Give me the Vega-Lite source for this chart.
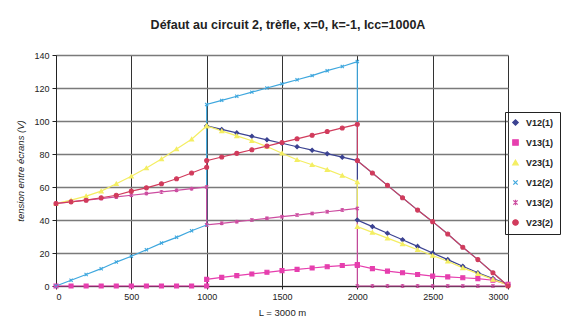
{
  "$schema": "https://vega.github.io/schema/vega-lite/v6.json",
  "width": 452,
  "height": 231,
  "autosize": "none",
  "padding": {"left": 56, "top": 55, "right": 65, "bottom": 45},
  "background": "white",
  "title": {"text": "Défaut au circuit 2, trèfle, x=0, k=-1, Icc=1000A", "font": "Liberation Sans", "fontSize": 12.5, "fontWeight": "bold", "color": "#222", "anchor": "middle", "offset": 20, "dx": 6},
  "config": {
    "view": {"stroke": null},
    "axis": {"labelFont": "Liberation Sans", "labelFontSize": 9, "labelColor": "#222", "titleFont": "Liberation Sans", "titleColor": "#222", "domainColor": "#222", "tickColor": "#222", "gridColor": "#808080"},
    "legend": {"labelFont": "Liberation Sans", "labelFontSize": 9, "labelFontWeight": "bold", "labelColor": "#222", "orient": "none", "legendX": 449, "legendY": 57, "strokeColor": "#222", "padding": 6, "rowPadding": 9, "symbolSize": 30, "symbolStrokeWidth": 1.2, "labelOffset": 6, "title": null}
  },
  "data": {"values": [
    {"s":"V12(1)","o":11,"L":1000,"v":97},{"s":"V12(1)","o":12,"L":1100,"v":94.9},{"s":"V12(1)","o":13,"L":1200,"v":92.8},{"s":"V12(1)","o":14,"L":1300,"v":90.7},{"s":"V12(1)","o":15,"L":1400,"v":88.6},{"s":"V12(1)","o":16,"L":1500,"v":86.5},{"s":"V12(1)","o":17,"L":1600,"v":84.4},{"s":"V12(1)","o":18,"L":1700,"v":82.3},{"s":"V12(1)","o":19,"L":1800,"v":80.2},{"s":"V12(1)","o":20,"L":1900,"v":78.1},{"s":"V12(1)","o":21,"L":2000,"v":76},
    {"s":"V12(1)","o":22,"L":2000,"v":40},{"s":"V12(1)","o":23,"L":2100,"v":36},{"s":"V12(1)","o":24,"L":2200,"v":32},{"s":"V12(1)","o":25,"L":2300,"v":28},{"s":"V12(1)","o":26,"L":2400,"v":24},{"s":"V12(1)","o":27,"L":2500,"v":20},{"s":"V12(1)","o":28,"L":2600,"v":16},{"s":"V12(1)","o":29,"L":2700,"v":12},{"s":"V12(1)","o":30,"L":2800,"v":8},{"s":"V12(1)","o":31,"L":2900,"v":4.5},{"s":"V12(1)","o":32,"L":3000,"v":1},

    {"s":"V13(1)","o":0,"L":0,"v":0},{"s":"V13(1)","o":1,"L":100,"v":0},{"s":"V13(1)","o":2,"L":200,"v":0},{"s":"V13(1)","o":3,"L":300,"v":0},{"s":"V13(1)","o":4,"L":400,"v":0},{"s":"V13(1)","o":5,"L":500,"v":0},{"s":"V13(1)","o":6,"L":600,"v":0},{"s":"V13(1)","o":7,"L":700,"v":0},{"s":"V13(1)","o":8,"L":800,"v":0},{"s":"V13(1)","o":9,"L":900,"v":0},{"s":"V13(1)","o":10,"L":1000,"v":0},
    {"s":"V13(1)","o":11,"L":1000,"v":4},{"s":"V13(1)","o":12,"L":1100,"v":5.2},{"s":"V13(1)","o":13,"L":1200,"v":6.3},{"s":"V13(1)","o":14,"L":1300,"v":7.3},{"s":"V13(1)","o":15,"L":1400,"v":8.3},{"s":"V13(1)","o":16,"L":1500,"v":9.3},{"s":"V13(1)","o":17,"L":1600,"v":10.1},{"s":"V13(1)","o":18,"L":1700,"v":10.9},{"s":"V13(1)","o":19,"L":1800,"v":11.7},{"s":"V13(1)","o":20,"L":1900,"v":12.4},{"s":"V13(1)","o":21,"L":2000,"v":13},
    {"s":"V13(1)","o":22,"L":2000,"v":12.5},{"s":"V13(1)","o":23,"L":2100,"v":10.5},{"s":"V13(1)","o":24,"L":2200,"v":9},{"s":"V13(1)","o":25,"L":2300,"v":8},{"s":"V13(1)","o":26,"L":2400,"v":7},{"s":"V13(1)","o":27,"L":2500,"v":6},{"s":"V13(1)","o":28,"L":2600,"v":5.5},{"s":"V13(1)","o":29,"L":2700,"v":5},{"s":"V13(1)","o":30,"L":2800,"v":4.5},{"s":"V13(1)","o":31,"L":2900,"v":3.5},{"s":"V13(1)","o":32,"L":3000,"v":1},

    {"s":"V23(1)","o":0,"L":0,"v":50},{"s":"V23(1)","o":1,"L":100,"v":52},{"s":"V23(1)","o":2,"L":200,"v":54.5},{"s":"V23(1)","o":3,"L":300,"v":57.5},{"s":"V23(1)","o":4,"L":400,"v":62},{"s":"V23(1)","o":5,"L":500,"v":66.5},{"s":"V23(1)","o":6,"L":600,"v":71.5},{"s":"V23(1)","o":7,"L":700,"v":77},{"s":"V23(1)","o":8,"L":800,"v":83},{"s":"V23(1)","o":9,"L":900,"v":89},{"s":"V23(1)","o":10,"L":1000,"v":97},
    {"s":"V23(1)","o":11,"L":1000,"v":97},{"s":"V23(1)","o":12,"L":1100,"v":94},{"s":"V23(1)","o":13,"L":1200,"v":91},{"s":"V23(1)","o":14,"L":1300,"v":88},{"s":"V23(1)","o":15,"L":1400,"v":84.5},{"s":"V23(1)","o":16,"L":1500,"v":80.5},{"s":"V23(1)","o":17,"L":1600,"v":76.5},{"s":"V23(1)","o":18,"L":1700,"v":73.5},{"s":"V23(1)","o":19,"L":1800,"v":70.5},{"s":"V23(1)","o":20,"L":1900,"v":67},{"s":"V23(1)","o":21,"L":2000,"v":63},
    {"s":"V23(1)","o":22,"L":2000,"v":36},{"s":"V23(1)","o":23,"L":2100,"v":32.5},{"s":"V23(1)","o":24,"L":2200,"v":29},{"s":"V23(1)","o":25,"L":2300,"v":25.5},{"s":"V23(1)","o":26,"L":2400,"v":22},{"s":"V23(1)","o":27,"L":2500,"v":18.5},{"s":"V23(1)","o":28,"L":2600,"v":15},{"s":"V23(1)","o":29,"L":2700,"v":11},{"s":"V23(1)","o":30,"L":2800,"v":7.5},{"s":"V23(1)","o":31,"L":2900,"v":4},{"s":"V23(1)","o":32,"L":3000,"v":0.5},

    {"s":"V12(2)","o":0,"L":0,"v":0},{"s":"V12(2)","o":1,"L":100,"v":3.5},{"s":"V12(2)","o":2,"L":200,"v":7},{"s":"V12(2)","o":3,"L":300,"v":10.5},{"s":"V12(2)","o":4,"L":400,"v":14.5},{"s":"V12(2)","o":5,"L":500,"v":18},{"s":"V12(2)","o":6,"L":600,"v":22},{"s":"V12(2)","o":7,"L":700,"v":26},{"s":"V12(2)","o":8,"L":800,"v":29.5},{"s":"V12(2)","o":9,"L":900,"v":33.5},{"s":"V12(2)","o":10,"L":1000,"v":37},
    {"s":"V12(2)","o":11,"L":1000,"v":110},{"s":"V12(2)","o":12,"L":1100,"v":112.5},{"s":"V12(2)","o":13,"L":1200,"v":115},{"s":"V12(2)","o":14,"L":1300,"v":117.5},{"s":"V12(2)","o":15,"L":1400,"v":120},{"s":"V12(2)","o":16,"L":1500,"v":122.5},{"s":"V12(2)","o":17,"L":1600,"v":125},{"s":"V12(2)","o":18,"L":1700,"v":127.5},{"s":"V12(2)","o":19,"L":1800,"v":130.5},{"s":"V12(2)","o":20,"L":1900,"v":133},{"s":"V12(2)","o":21,"L":2000,"v":136},
    {"s":"V12(2)","o":22,"L":2000,"v":76},{"s":"V12(2)","o":23,"L":2100,"v":68.5},{"s":"V12(2)","o":24,"L":2200,"v":61},{"s":"V12(2)","o":25,"L":2300,"v":53.5},{"s":"V12(2)","o":26,"L":2400,"v":46},{"s":"V12(2)","o":27,"L":2500,"v":39},{"s":"V12(2)","o":28,"L":2600,"v":31.5},{"s":"V12(2)","o":29,"L":2700,"v":23.5},{"s":"V12(2)","o":30,"L":2800,"v":16},{"s":"V12(2)","o":31,"L":2900,"v":8},{"s":"V12(2)","o":32,"L":3000,"v":0},

    {"s":"V13(2)","o":0,"L":0,"v":50},{"s":"V13(2)","o":1,"L":100,"v":51},{"s":"V13(2)","o":2,"L":200,"v":52},{"s":"V13(2)","o":3,"L":300,"v":53},{"s":"V13(2)","o":4,"L":400,"v":54},{"s":"V13(2)","o":5,"L":500,"v":55},{"s":"V13(2)","o":6,"L":600,"v":56},{"s":"V13(2)","o":7,"L":700,"v":57},{"s":"V13(2)","o":8,"L":800,"v":58},{"s":"V13(2)","o":9,"L":900,"v":59},{"s":"V13(2)","o":10,"L":1000,"v":60},
    {"s":"V13(2)","o":11,"L":1000,"v":37},{"s":"V13(2)","o":12,"L":1100,"v":38},{"s":"V13(2)","o":13,"L":1200,"v":39},{"s":"V13(2)","o":14,"L":1300,"v":40},{"s":"V13(2)","o":15,"L":1400,"v":41},{"s":"V13(2)","o":16,"L":1500,"v":42},{"s":"V13(2)","o":17,"L":1600,"v":43},{"s":"V13(2)","o":18,"L":1700,"v":44},{"s":"V13(2)","o":19,"L":1800,"v":45},{"s":"V13(2)","o":20,"L":1900,"v":46},{"s":"V13(2)","o":21,"L":2000,"v":47},
    {"s":"V13(2)","o":22,"L":2000,"v":0},{"s":"V13(2)","o":23,"L":2100,"v":0},{"s":"V13(2)","o":24,"L":2200,"v":0},{"s":"V13(2)","o":25,"L":2300,"v":0},{"s":"V13(2)","o":26,"L":2400,"v":0},{"s":"V13(2)","o":27,"L":2500,"v":0},{"s":"V13(2)","o":28,"L":2600,"v":0},{"s":"V13(2)","o":29,"L":2700,"v":0},{"s":"V13(2)","o":30,"L":2800,"v":0},{"s":"V13(2)","o":31,"L":2900,"v":0},{"s":"V13(2)","o":32,"L":3000,"v":0},

    {"s":"V23(2)","o":0,"L":0,"v":50},{"s":"V23(2)","o":1,"L":100,"v":51},{"s":"V23(2)","o":2,"L":200,"v":52},{"s":"V23(2)","o":3,"L":300,"v":53.5},{"s":"V23(2)","o":4,"L":400,"v":55},{"s":"V23(2)","o":5,"L":500,"v":57.5},{"s":"V23(2)","o":6,"L":600,"v":59.5},{"s":"V23(2)","o":7,"L":700,"v":62},{"s":"V23(2)","o":8,"L":800,"v":65},{"s":"V23(2)","o":9,"L":900,"v":68.5},{"s":"V23(2)","o":10,"L":1000,"v":72},
    {"s":"V23(2)","o":11,"L":1000,"v":76},{"s":"V23(2)","o":12,"L":1100,"v":78.2},{"s":"V23(2)","o":13,"L":1200,"v":80.4},{"s":"V23(2)","o":14,"L":1300,"v":82.6},{"s":"V23(2)","o":15,"L":1400,"v":84.8},{"s":"V23(2)","o":16,"L":1500,"v":87},{"s":"V23(2)","o":17,"L":1600,"v":89.2},{"s":"V23(2)","o":18,"L":1700,"v":91.4},{"s":"V23(2)","o":19,"L":1800,"v":93.6},{"s":"V23(2)","o":20,"L":1900,"v":95.8},{"s":"V23(2)","o":21,"L":2000,"v":98},
    {"s":"V23(2)","o":22,"L":2000,"v":76},{"s":"V23(2)","o":23,"L":2100,"v":68.5},{"s":"V23(2)","o":24,"L":2200,"v":61},{"s":"V23(2)","o":25,"L":2300,"v":53.5},{"s":"V23(2)","o":26,"L":2400,"v":46},{"s":"V23(2)","o":27,"L":2500,"v":39},{"s":"V23(2)","o":28,"L":2600,"v":31.5},{"s":"V23(2)","o":29,"L":2700,"v":23.5},{"s":"V23(2)","o":30,"L":2800,"v":16},{"s":"V23(2)","o":31,"L":2900,"v":8},{"s":"V23(2)","o":32,"L":3000,"v":0}
  ]},
  "encoding": {
    "x": {"field": "L", "type": "quantitative", "scale": {"domain": [0, 3000], "nice": false}, "axis": {"values": [0, 500, 1000, 1500, 2000, 2500, 3000], "format": "d", "title": "L = 3000 m", "titleFontSize": 9.5, "titleFontWeight": "normal", "titlePadding": 6, "labelPadding": 3, "tickSize": 3, "gridColor": "#333", "gridWidth": 1}},
    "y": {"field": "v", "type": "quantitative", "scale": {"domain": [0, 140], "nice": false}, "axis": {"values": [0, 20, 40, 60, 80, 100, 120, 140], "title": "tension entre écrans (V)", "titleFontSize": 9.5, "titleFontStyle": "italic", "titleFontWeight": "normal", "titlePadding": 8, "labelPadding": 3, "tickSize": 4, "gridColor": "#7a7a7a", "gridWidth": 1.6}},
    "stroke": {"field": "s", "type": "nominal", "scale": {"domain": ["V12(1)", "V13(1)", "V23(1)", "V12(2)", "V13(2)", "V23(2)"], "range": ["#3c4392", "#e63fae", "#f4ee62", "#3ea7de", "#cc4ca0", "#d13b5c"]}}
  },
  "layer": [
    {
      "mark": {"type": "line", "strokeWidth": 1.2},
      "encoding": {
        "order": {"field": "o", "type": "quantitative"}
      }
    },
    {
      "mark": {"type": "point", "size": 16, "strokeWidth": 1.1, "opacity": 1},
      "encoding": {
        "fill": {"field": "s", "type": "nominal", "scale": {"domain": ["V12(1)", "V13(1)", "V23(1)", "V12(2)", "V13(2)", "V23(2)"], "range": ["#3c4392", "#e63fae", "#f4ee62", "#3ea7de", "#cc4ca0", "#d13b5c"]}},
        "shape": {"field": "s", "type": "nominal", "scale": {"domain": ["V12(1)", "V13(1)", "V23(1)", "V12(2)", "V13(2)", "V23(2)"], "range": ["diamond", "square", "triangle-up", "M-0.8,-0.8L0.8,0.8M-0.8,0.8L0.8,-0.8", "M-0.8,-0.8L0.8,0.8M-0.8,0.8L0.8,-0.8M0,-1L0,1", "circle"]}}
      }
    }
  ]
}
